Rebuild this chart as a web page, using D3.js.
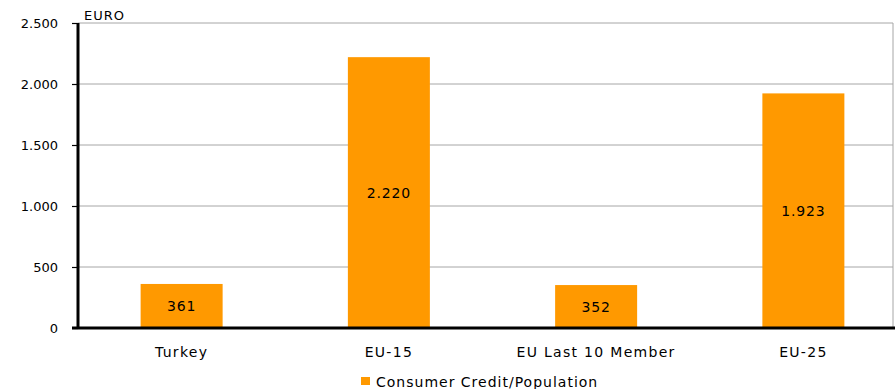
<!DOCTYPE html>
<html>
<head>
<meta charset="utf-8">
<script src="https://cdn.jsdelivr.net/npm/d3@7"></script>
<style>
  body { margin: 0; background: #fff; }
  text { font-family: "DejaVu Sans", Verdana, sans-serif; fill: #000; }
</style>
</head>
<body>
<svg width="895" height="389"></svg>
<script>
    var categories = ['Turkey', 'EU-15', 'EU Last 10 Member', 'EU-25'];
    var values = [361, 2220, 352, 1923];
    var valueLabels = ['361', '2.220', '352', '1.923'];
    var yTicks = [0, 500, 1000, 1500, 2000, 2500];
    var seriesName = 'Consumer Credit/Population';

    var margin = {top: 23, bottom: 61, left: 78, right: -12}
    var width = 895
    var height = 389

    var svg = d3.select('svg')

    var xScale = d3.scaleBand()
      .domain(categories)
      .range([margin.left, width - margin.right])
      .paddingInner(0)

    var yScale = d3.scaleLinear()
      .domain([0, 2500])
      .range([height - margin.bottom, margin.top])

    var barW = 82

    // gridlines
    svg.append('g')
      .selectAll('line')
      .data(yTicks.slice(1))
      .enter().append('line')
      .attr('x1', margin.left)
      .attr('x2', 893)
      .attr('y1', d => yScale(d))
      .attr('y2', d => yScale(d))
      .attr('stroke', '#a6a6a6')
      .attr('stroke-width', 1)
    svg.append('line')
      .attr('x1', 893).attr('x2', 893)
      .attr('y1', margin.top).attr('y2', yScale(0))
      .attr('stroke', '#a6a6a6')

    svg.selectAll('rect.bar')
      .data(values)
      .enter().append('rect')
      .attr('class', 'bar')
      .attr('x', (d, i) => xScale(categories[i]) + xScale.bandwidth() / 2 - barW / 2)
      .attr('y', d => yScale(d))
      .attr('width', barW)
      .attr('height', d => yScale(0) - yScale(d))
      .attr('fill', '#ff9900')

    svg.selectAll('text.val')
      .data(values)
      .enter().append('text')
      .attr('class', 'val')
      .attr('x', (d, i) => xScale(categories[i]) + xScale.bandwidth() / 2)
      .attr('y', d => (yScale(d) + yScale(0)) / 2 + 5)
      .attr('text-anchor', 'middle')
      .style('font-size', '14px')
      .style('letter-spacing', '0.8px')
      .text((d, i) => valueLabels[i])

    var yAxis = d3.axisLeft(yScale)
      .tickValues(yTicks)
      .tickSize(6)
      .tickPadding(14)
      .tickFormat(d => d3.format(',')(d).replace(/,/g, '.'))

    var yg = svg.append('g')
      .attr('transform', 'translate(' + [margin.left, 0] + ')')
      .call(yAxis)
    yg.select('.domain').attr('stroke', '#000').attr('stroke-width', 3).attr('d', 'M0,' + margin.top + 'V' + yScale(0))
    yg.selectAll('.tick line').attr('stroke', '#000').attr('stroke-width', 1.2)
    yg.selectAll('.tick text').style('font-size', '13px').style('font-family', '"DejaVu Sans", Verdana, sans-serif')

    // x axis line
    svg.append('line')
      .attr('x1', margin.left - 6)
      .attr('x2', 895)
      .attr('y1', yScale(0))
      .attr('y2', yScale(0))
      .attr('stroke', '#000')
      .attr('stroke-width', 3)

    svg.selectAll('text.cat')
      .data(categories)
      .enter().append('text')
      .attr('class', 'cat')
      .attr('x', d => xScale(d) + xScale.bandwidth() / 2)
      .attr('y', yScale(0) + 29)
      .attr('text-anchor', 'middle')
      .style('font-size', '14px')
      .style('letter-spacing', '1.3px')
      .text(d => d)

    svg.append('text')
      .attr('x', 84)
      .attr('y', 20)
      .style('font-size', '13px')
      .style('letter-spacing', '1px')
      .text('EURO')

    // legend
    svg.append('rect')
      .attr('x', 361).attr('y', 377)
      .attr('width', 9).attr('height', 8)
      .attr('fill', '#ff9900')
    svg.append('text')
      .attr('x', 376)
      .attr('y', 387)
      .style('font-size', '14px')
      .style('letter-spacing', '1px')
      .text(seriesName)
</script>
</body>
</html>
